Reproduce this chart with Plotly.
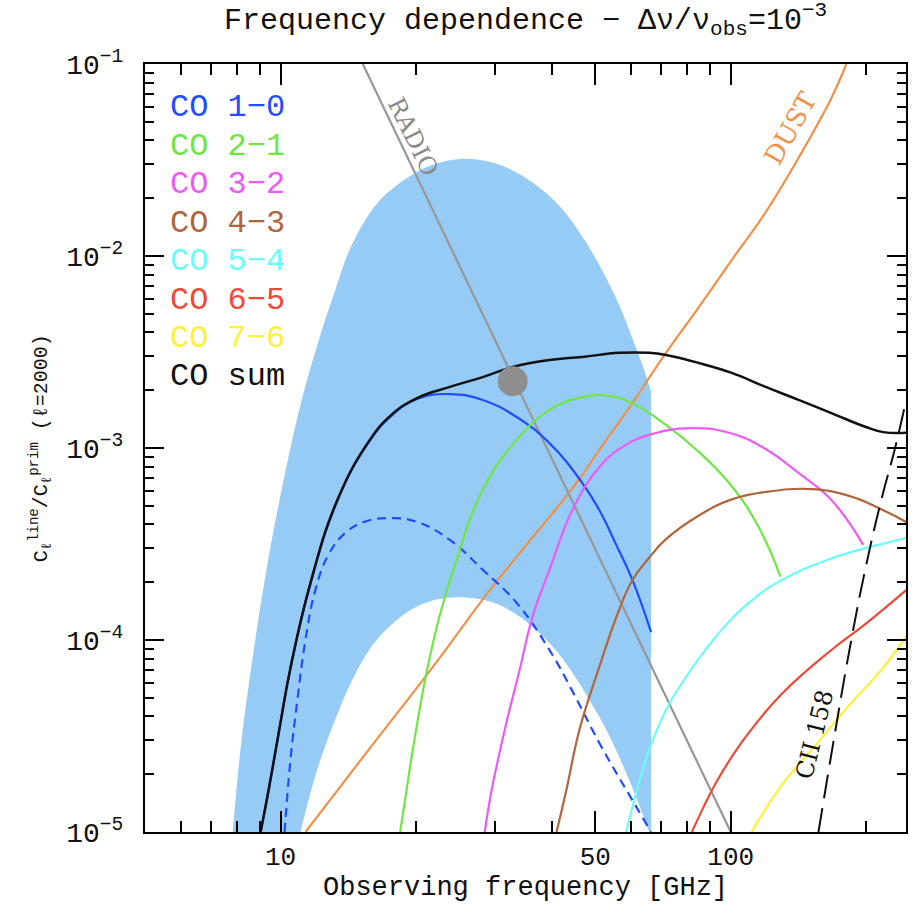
import math
import plotly.graph_objects as go

# ---------------- data ----------------
band_upper_freq = [7.83, 8.155, 8.58, 9.264, 10.0, 11.07, 12.26, 13.23, 14.07, 15.19, 16.64, 19.39, 22.02, 25.01,
                   28.41, 32.27, 36.66, 41.65, 46.11, 51.05, 56.52, 61.01, 64.2, 66.53]
band_upper_val = [1e-5, 2.74e-5, 6.81e-5, 2.18e-4, 5.69e-4, 1.67e-3, 3.88e-3, 6.65e-3, 1.01e-2, 1.45e-2, 1.96e-2,
                  2.61e-2, 3.01e-2, 3.20e-2, 3.13e-2, 2.84e-2, 2.37e-2, 1.82e-2, 1.33e-2, 8.98e-3, 5.56e-3,
                  3.52e-3, 2.55e-3, 1.96e-3]
band_hole_freq = [11.07, 12.26, 14.81, 16.90, 20.40, 24.64, 30.67, 39.56, 51.05, 59.47, 65.86]
band_hole_val = [1e-5, 2.37e-5, 6.98e-5, 1.09e-4, 1.52e-4, 1.67e-4, 1.52e-4, 9.64e-5, 3.97e-5, 1.87e-5, 1e-5]
band_floor = 1e-6

co10_freq = [9.03, 9.41, 9.95, 10.52, 11.65, 13.37, 15.57, 17.52, 20.10, 23.77, 28.13, 33.45, 39.56, 46.82, 51.05, 55.67, 60.4, 66.53]
co10_val = [1e-5, 1.66e-5, 3.48e-5, 7.15e-5, 1.96e-4, 5.30e-4, 1.04e-3, 1.45e-3, 1.80e-3, 1.91e-3, 1.78e-3, 1.45e-3, 1.06e-3, 6.57e-4, 4.75e-4, 3.13e-4, 2.07e-4, 1.10e-4]

co10_alt_freq = [10.21, 10.52, 10.90, 11.36, 11.95, 12.77, 13.93, 15.57, 17.78, 20.10, 23.77, 28.13, 33.45, 39.56, 44.95, 51.05, 60.4, 66.53]
co10_alt_val = [1e-5, 2.37e-5, 4.87e-5, 1.0e-4, 1.82e-4, 2.77e-4, 3.61e-4, 4.17e-4, 4.31e-4, 4.12e-4, 3.32e-4, 2.32e-4, 1.56e-4, 8.87e-5, 5.17e-5, 2.91e-5, 1.47e-5, 1e-5]

co21_freq = [18.44, 19.20, 20.0, 21.15, 22.59, 24.39, 28.13, 33.45, 39.56, 46.82, 53.71, 60.4, 71.79, 84.95, 100.5, 115.6, 129.0]
co21_val = [1e-5, 1.87e-5, 3.40e-5, 6.98e-5, 1.35e-4, 2.46e-4, 6.04e-4, 1.10e-3, 1.58e-3, 1.84e-3, 1.87e-3, 1.71e-3, 1.32e-3, 9.53e-4, 6.32e-4, 3.83e-4, 2.13e-4]

co32_freq = [28.41, 29.45, 31.47, 33.96, 36.28, 39.56, 44.49, 51.05, 57.37, 65.86, 81.97, 100.5, 119.5, 141.4, 167.3, 196.9]
co32_val = [1e-5, 1.66e-5, 3.40e-5, 6.98e-5, 1.32e-4, 2.32e-4, 4.75e-4, 7.96e-4, 1.01e-3, 1.17e-3, 1.27e-3, 1.19e-3, 9.88e-4, 7.41e-4, 5.36e-4, 3.13e-4]

co43_freq = [41.02, 43.15, 46.11, 51.05, 55.67, 60.4, 65.86, 71.79, 84.95, 100.5, 119.5, 151.1, 182.4, 215.9, 245.2]
co43_val = [1e-5, 1.66e-5, 3.40e-5, 7.24e-5, 1.31e-4, 2.04e-4, 2.68e-4, 3.35e-4, 4.45e-4, 5.40e-4, 5.90e-4, 6.11e-4, 5.65e-4, 4.80e-4, 4.12e-4]

co54_freq = [58.56, 61.94, 65.86, 71.79, 77.92, 92.64, 109.6, 129.7, 167.3, 209.4, 245.2]
co54_val = [1e-5, 1.66e-5, 2.67e-5, 4.32e-5, 5.97e-5, 1.04e-4, 1.56e-4, 2.05e-4, 2.66e-4, 3.10e-4, 3.40e-4]

co65_freq = [81.97, 87.15, 92.64, 100.5, 109.6, 129.7, 167.3, 198.9, 245.2]
co65_val = [1e-5, 1.36e-5, 1.80e-5, 2.46e-5, 3.28e-5, 5.23e-5, 8.87e-5, 1.21e-4, 1.82e-4]

co76_freq = [111.3, 129.7, 154.2, 182.4, 215.9, 245.2]
co76_val = [1e-5, 1.75e-5, 2.83e-5, 4.52e-5, 6.98e-5, 1.04e-4]

cosum_freq = [9.03, 9.41, 9.95, 10.52, 11.65, 13.37, 15.57, 17.52, 20.10, 23.77, 28.13, 32.77, 39.56, 46.82, 56.52, 65.86, 71.79, 84.95, 100.5, 119.5, 141.4, 167.3, 198.9, 218.1, 245.2]
cosum_val = [1e-5, 1.66e-5, 3.48e-5, 7.15e-5, 1.98e-4, 5.36e-4, 1.05e-3, 1.47e-3, 1.82e-3, 2.08e-3, 2.34e-3, 2.64e-3, 2.87e-3, 2.98e-3, 3.13e-3, 3.13e-3, 3.05e-3, 2.77e-3, 2.46e-3, 2.08e-3, 1.78e-3, 1.52e-3, 1.29e-3, 1.21e-3, 1.20e-3]

dust_freq = [11.36, 15.81, 21.80, 29.15, 33.45, 45.41, 51.05, 60.4, 71.79, 84.95, 100.5, 119.5, 141.4, 167.3, 180.6]
dust_val = [1e-5, 2.74e-5, 7.24e-5, 1.82e-4, 2.71e-4, 6.57e-4, 9.77e-4, 1.71e-3, 3.13e-3, 5.42e-3, 9.53e-3, 1.69e-2, 3.24e-2, 6.65e-2, 1e-1]

radio_freq = [15.23, 100.0]
radio_val = [1e-1, 1e-5]

cii_freq = [156.6, 170.8, 185.2, 199.9, 215.9, 231.7, 245.2]
cii_val = [1e-5, 3.40e-5, 1.0e-4, 2.46e-4, 5.36e-4, 1.0e-3, 1.78e-3]

point_freq = [32.77]
point_val = [2.23e-3]

legend_labels = ["CO 1\u22120", "CO 2\u22121", "CO 3\u22122", "CO 4\u22123",
                 "CO 5\u22124", "CO 6\u22125", "CO 7\u22126", "CO sum"]

x_major = [10, 50, 100]
x_major_text = ["10", "50", "100"]
x_minor = [6, 7, 8, 9, 20, 30, 40, 60, 70, 80, 90, 200]
y_major = [1e-5, 1e-4, 1e-3, 1e-2, 1e-1]
y_major_text = ["10<sup>\u22125</sup>", "10<sup>\u22124</sup>", "10<sup>\u22123</sup>",
                "10<sup>\u22122</sup>", "10<sup>\u22121</sup>"]
y_minor = [k * 10.0 ** e for e in range(-5, -1) for k in range(2, 10)]

# ---------------- styles ----------------
C_BAND = "#96cbf5"
C_BLUE = "#1f4dff"
C_GREEN = "#6fe645"
C_MAG = "#ea5cf5"
C_BROWN = "#b0653c"
C_CYAN = "#6cfbfb"
C_RED = "#ee4a38"
C_YEL = "#fff03c"
C_DUST = "#f0904a"
C_RADIO = "#979797"
legend_colors = [C_BLUE, C_GREEN, C_MAG, C_BROWN, C_CYAN, C_RED, C_YEL, "#111111"]

MONO = "Liberation Mono"
SERIF = "DejaVu Serif"
SMOOTH = 1.25

fig = go.Figure()

def line(xs, ys, color, width=2.2, dash=None, shape="spline"):
    fig.add_trace(go.Scatter(x=xs, y=ys, mode="lines",
                             line=dict(color=color, width=width, dash=dash, shape=shape, smoothing=SMOOTH),
                             showlegend=False, hoverinfo="skip"))

# band: base + upper curve (tonexty), then the white inner hole
fig.add_trace(go.Scatter(x=[band_upper_freq[0], band_upper_freq[-1]], y=[band_floor, band_floor],
                         mode="lines", line=dict(width=0), showlegend=False, hoverinfo="skip"))
fig.add_trace(go.Scatter(x=band_upper_freq, y=band_upper_val, mode="lines",
                         line=dict(width=0, shape="spline", smoothing=1.0), fill="tonexty", fillcolor=C_BAND,
                         showlegend=False, hoverinfo="skip"))
fig.add_trace(go.Scatter(x=[band_hole_freq[0], band_hole_freq[-1]], y=[band_floor, band_floor],
                         mode="lines", line=dict(width=0), showlegend=False, hoverinfo="skip"))
fig.add_trace(go.Scatter(x=band_hole_freq, y=band_hole_val, mode="lines",
                         line=dict(width=0, shape="spline", smoothing=1.0), fill="tonexty", fillcolor="white",
                         showlegend=False, hoverinfo="skip"))

line(dust_freq, dust_val, C_DUST)
line(radio_freq, radio_val, C_RADIO, shape="linear")
line(co10_freq, co10_val, C_BLUE)
line(co10_alt_freq, co10_alt_val, C_BLUE, dash="9px,6px")
line(co21_freq, co21_val, C_GREEN)
line(co32_freq, co32_val, C_MAG)
line(co43_freq, co43_val, C_BROWN)
line(co54_freq, co54_val, C_CYAN)
line(co65_freq, co65_val, C_RED)
line(co76_freq, co76_val, C_YEL)
line(cosum_freq, cosum_val, "#111111", width=2.5)
line(cii_freq, cii_val, "#111111", width=2, dash="24px,10px")

fig.add_trace(go.Scatter(x=point_freq, y=point_val, mode="markers",
                         marker=dict(size=30, color="#8e8e8e", line=dict(width=0)),
                         showlegend=False, hoverinfo="skip"))

# ---------------- layout ----------------
L, R, T, B = 145, 10, 64, 83
W, H = 918, 915
pw, ph = W - L - R, H - T - B

def px_x(p):
    return (p - L) / pw

def px_y(p):
    return (H - B - p) / ph

annotations = []
for i, (lab, col) in enumerate(zip(legend_labels, legend_colors)):
    annotations.append(dict(text=lab, x=px_x(168), y=px_y(108 + 38.4 * i), xref="paper", yref="paper",
                            xanchor="left", yanchor="middle", showarrow=False,
                            font=dict(family=MONO, size=32, color=col)))

annotations += [
    dict(text="RADIO", x=math.log10(19.69), y=-1.380, xref="x", yref="y", textangle=64,
         showarrow=False, font=dict(family=SERIF, size=24, color="#8a8a8a")),
    dict(text="DUST", x=2.1327, y=-1.333, xref="x", yref="y", textangle=-60.6,
         showarrow=False, font=dict(family=SERIF, size=26, color=C_DUST)),
    dict(text="CII 158", x=2.187, y=-4.490, xref="x", yref="y", textangle=-76,
         showarrow=False, font=dict(family=SERIF, size=24, color="#111111")),
    dict(text="Frequency dependence \u2212 \u0394\u03bd/\u03bd<sub>obs</sub>=10<sup>\u22123</sup>",
         x=0.5, y=px_y(20), xref="paper", yref="paper", xanchor="center", yanchor="middle",
         showarrow=False, font=dict(family=MONO, size=30, color="#111111")),
    dict(text="Observing frequency [GHz]", x=0.5, y=px_y(888), xref="paper", yref="paper",
         xanchor="center", yanchor="middle", showarrow=False,
         font=dict(family=MONO, size=27, color="#111111")),
    dict(text="C<sub>\u2113</sub><sup>line</sup>/C<sub>\u2113</sub><sup>prim</sup> (\u2113=2000)",
         x=px_x(40), y=0.5, xref="paper", yref="paper", xanchor="center", yanchor="middle",
         textangle=-90, showarrow=False, font=dict(family=MONO, size=20, color="#111111")),
]

axis_common = dict(showline=True, linecolor="black", linewidth=2, mirror="allticks",
                   ticks="inside", tickcolor="black", tickwidth=1.6, showgrid=False, zeroline=False)

fig.update_layout(
    width=W, height=H, margin=dict(l=L, r=R, t=T, b=B),
    paper_bgcolor="white", plot_bgcolor="white",
    xaxis=dict(type="log", range=[math.log10(5), math.log10(245)], tickmode="array",
               tickvals=x_major, ticktext=x_major_text, ticklen=21,
               minor=dict(tickmode="array", tickvals=x_minor, ticks="inside", ticklen=11,
                          tickwidth=1.6, tickcolor="black"),
               tickfont=dict(family=MONO, size=26, color="#111111"), ticklabelstandoff=0,
               **axis_common),
    yaxis=dict(type="log", range=[-5, -1], tickmode="array",
               tickvals=y_major, ticktext=y_major_text, ticklen=19,
               minor=dict(tickmode="array", tickvals=y_minor, ticks="inside", ticklen=9,
                          tickwidth=1.6, tickcolor="black"),
               tickfont=dict(family=MONO, size=28, color="#111111"), ticklabelstandoff=14,
               **axis_common),
    annotations=annotations,
)

fig.write_html("out.html")
